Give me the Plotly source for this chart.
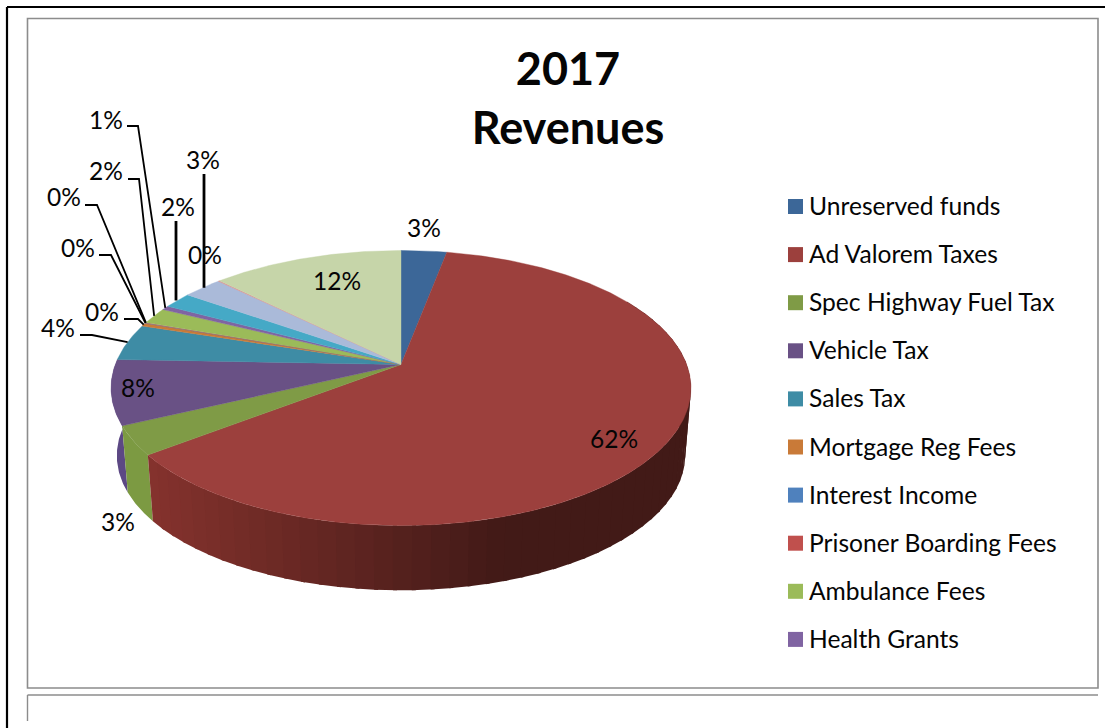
import math
import plotly.graph_objects as go

# ---- data -----------------------------------------------------------------
CATEGORIES = ["Unreserved funds", "Ad Valorem Taxes", "Spec Highway Fuel Tax", "Vehicle Tax",
              "Sales Tax", "Mortgage Reg Fees", "Interest Income", "Prisoner Boarding Fees",
              "Ambulance Fees", "Health Grants", "", "", "", ""]
VALUES = [3.0, 61.6, 3.4, 7.6, 4.3, 0.4, 0.05, 0.05, 1.9, 0.5, 1.9, 2.6, 0.1, 12.6]
PERCENT_LABELS = ["3%", "62%", "3%", "8%", "4%", "0%", "0%", "0%", "2%", "1%", "2%", "3%", "0%", "12%"]
TITLE = "2017<br>Revenues"

# ---- styles -----------------------------------------------------------------
COLORS = ["#3C6798", "#9C403D", "#7F9B46", "#695185", "#3E8CA5", "#C97A38", "#4F81BD",
          "#C0504D", "#9BBB59", "#8064A2", "#45A9C6", "#AABAD9", "#D99694", "#C6D5A9"]
FONT = "Lato"
TEXT = "#050505"

# pie projection (pixel-scaled axes, perspective tilted disc)
CX, CY = 401.0, 364.5
RX, RY, PERSP = 285.7, 133.5, 0.171
DEPTH, BOTTOM_SCALE = 68.0, 0.98


def rim(theta, scale=1.0, drop=0.0):
    """Point on the disc for clockwise angle theta (radians) from 12 o'clock."""
    u, v = math.sin(theta), math.cos(theta)
    s = 1.0 / (1.0 + PERSP * v)
    return CX + scale * RX * u * s, CY + drop - scale * RY * v * s


def mix(a, b, t):
    t = max(0.0, min(1.0, t))
    pa = [int(a[i:i + 2], 16) for i in (1, 3, 5)]
    pb = [int(b[i:i + 2], 16) for i in (1, 3, 5)]
    return "#%02x%02x%02x" % tuple(round(x + (y - x) * t) for x, y in zip(pa, pb))


total = sum(VALUES)
edges = [0.0]
for val in VALUES:
    edges.append(edges[-1] + val / total * 2 * math.pi)
mids = [(edges[i] + edges[i + 1]) / 2 for i in range(len(VALUES))]

fig = go.Figure()


def band(th0, th1, color):
    n = max(2, int((th1 - th0) / 0.01))
    ths = [th0 + (th1 - th0) * k / n for k in range(n + 1)]
    top = [rim(t) for t in ths]
    bot = [rim(t, BOTTOM_SCALE, DEPTH) for t in reversed(ths)]
    pts = top + bot + top[:1]
    fig.add_trace(go.Scatter(x=[p[0] for p in pts], y=[p[1] for p in pts], mode="lines",
                             fill="toself", fillcolor=color, line=dict(width=0),
                             hoverinfo="skip", showlegend=False))


# side wall: slices whose rim faces the viewer (drawn far end first, each band
# slightly overlapping the previous one so no seams show)
band_step = math.radians(3.2)
band(edges[3], min(edges[4], math.radians(285)), "#5C4884")
band(edges[2], edges[3], "#7C9A42")
k = edges[2]
t_end = math.radians(60)
while k > t_end:
    k2 = max(k - band_step, t_end)
    x_here = rim((k + k2) / 2)[0]
    band(k2 - 0.012, k, mix("#421A17", "#84322D", (500 - x_here) / 350))
    k = k2

# top surface: one wedge per value
for i, col in enumerate(COLORS):
    t0, t1 = edges[i], edges[i + 1]
    n = max(2, int((t1 - t0) / 0.01))
    pts = [(CX, CY)] + [rim(t0 + (t1 - t0) * j / n) for j in range(n + 1)] + [(CX, CY)]
    fig.add_trace(go.Scatter(x=[p[0] for p in pts], y=[p[1] for p in pts], mode="lines",
                             fill="toself", fillcolor=col, line=dict(color=col, width=0.4),
                             name=CATEGORIES[i] or f"Slice {i + 1}",
                             text=PERCENT_LABELS[i], hoverinfo="name+text", showlegend=False))

# leader lines: from a label knee down to the rim of the slice they belong to
LEADERS = {
    4: ([80, 92], [335, 335], 1.8),
    5: ([124, 138], [319, 319], 1.8),
    6: ([99, 111], [255, 255], 1.8),
    7: ([85, 97], [205, 205], 1.8),
    8: ([128, 139], [179, 179], 1.8),
    9: ([127, 138], [126, 126], 1.8),
    10: ([176], [221], 2.8),
    11: ([204], [174], 2.8),
}
for i, (xs, ys, w) in LEADERS.items():
    ex, ey = rim(mids[i])
    if len(xs) == 1:
        ex = xs[0]
    fig.add_trace(go.Scatter(x=xs + [ex], y=ys + [ey], mode="lines",
                             line=dict(color="#000000", width=w),
                             hoverinfo="skip", showlegend=False))

# data labels
LABEL_POS = [(424, 227), (614, 438), (118, 521), (138, 387), (58, 327), (102, 311), (78, 247),
             (64, 196), (106, 170), (106, 119), (178, 206), (203, 159), (205, 254), (337, 280)]
annotations = []
for txt, (lx, ly) in zip(PERCENT_LABELS, LABEL_POS):
    annotations.append(dict(x=lx, y=ly, xref="x", yref="y", text=txt, showarrow=False,
                            xanchor="center", yanchor="middle",
                            font=dict(family=FONT, size=24.5, color=TEXT)))

# legend: swatch + text for each named category
LEG_Y0, LEG_STEP = 206.5, 48.1
names = [c for c in CATEGORIES if c]
fig.add_trace(go.Scatter(x=[795.5] * len(names), y=[LEG_Y0 + LEG_STEP * j for j in range(len(names))],
                         mode="markers", hoverinfo="skip", showlegend=False,
                         marker=dict(symbol="square", size=15, color=COLORS[:len(names)], line=dict(width=0))))
for j, nm in enumerate(names):
    annotations.append(dict(x=807, y=LEG_Y0 + LEG_STEP * j - 1, xref="x", yref="y", text=nm, showarrow=False,
                            xanchor="left", yanchor="middle",
                            font=dict(family=FONT, size=24.6, color=TEXT)))

# page frame lines
GRAY = "#8C8C8C"
shapes = [
    dict(type="line", x0=7, x1=7, y0=7, y1=728, line=dict(color="#000000", width=2.2)),
    dict(type="line", x0=7, x1=1105, y0=7, y1=7, line=dict(color="#000000", width=2.2)),
    dict(type="rect", x0=27.5, x1=1098, y0=18.5, y1=688, line=dict(color=GRAY, width=1.6), layer="below"),
    dict(type="line", x0=27.5, x1=1098, y0=695, y1=695, line=dict(color=GRAY, width=1.6)),
    dict(type="line", x0=27.5, x1=27.5, y0=695, y1=721, line=dict(color=GRAY, width=1.4)),
]

fig.update_layout(
    width=1105, height=728, margin=dict(l=0, r=0, t=0, b=0),
    paper_bgcolor="#FFFFFF", plot_bgcolor="#FFFFFF", showlegend=False,
    title=dict(text="<b>" + TITLE.replace("<br>", "</b><br><b>") + "</b>", x=568 / 1105, xanchor="center",
               y=1 - 85 / 728, yanchor="top", font=dict(family=FONT, size=45, color=TEXT)),
    xaxis=dict(range=[0, 1105], visible=False, fixedrange=True),
    yaxis=dict(range=[728, 0], visible=False, fixedrange=True),
    annotations=annotations, shapes=shapes,
)
fig.write_html("out.html", post_script="document.body.style.margin='0';document.body.style.overflow='hidden';",
               config={"displayModeBar": False})
